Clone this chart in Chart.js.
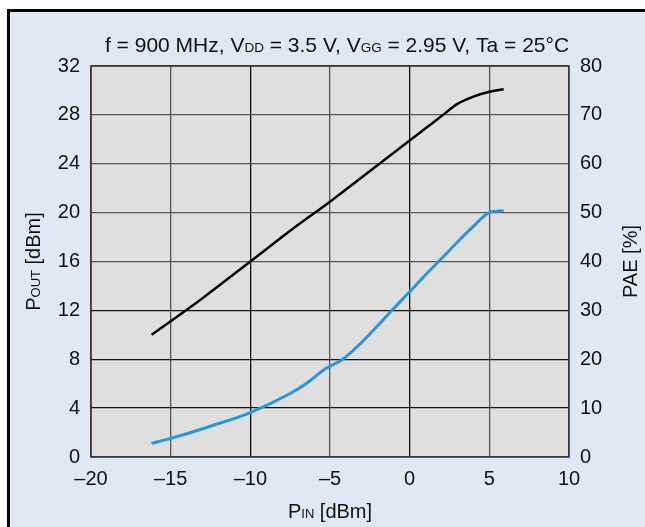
<!DOCTYPE html>
<html><head><meta charset="utf-8">
<script src="https://cdn.jsdelivr.net/npm/chart.js@4.4.1/dist/chart.umd.min.js"></script>
<style>html,body{margin:0;padding:0;background:#fff;overflow:hidden}canvas{display:block}</style>
</head><body><canvas id="c" width="645" height="527" style="width:645px;height:527px"></canvas>
<script>
// P_IN (dBm) values for the P_OUT curve
const pinPout = [-16.2, -13, -10, -7, -5, -2, 0, 1, 2, 3, 4, 5, 5.9];
// P_OUT (dBm)
const poutValues = [10.0, 13.0, 16.0, 19.0, 20.9, 23.9, 25.9, 26.9, 27.9, 28.9, 29.5, 29.9, 30.1];
// P_IN (dBm) values for the PAE curve
const pinPae = [-16.2, -15, -12.5, -10, -7.5, -6.5, -5.4, -5, -4.2, -3, -2, -1, 0, 1, 2, 3, 4, 5, 5.9];
// PAE (%)
const paeValues = [2.8, 3.8, 6.3, 9.1, 13.0, 15.0, 17.8, 18.6, 20.0, 23.5, 26.9, 30.4, 33.8, 37.3, 40.6, 44.0, 47.2, 50.0, 50.4];
// tick definitions
const xTicks = [-20, -15, -10, -5, 0, 5, 10];
const yLeftTicks = [0, 4, 8, 12, 16, 20, 24, 28, 32];
const yRightTicks = [0, 10, 20, 30, 40, 50, 60, 70, 80];

const FONT = 'Liberation Sans, Arial, sans-serif';
const BG = '#dfe8f4';
const fmt = v => (v < 0 ? '\u2013' + Math.abs(v) : String(v));

function richText(ctx, parts, x, y) {
  let total = 0;
  parts.forEach(p => { ctx.font = p[1] + 'px ' + FONT; total += ctx.measureText(p[0]).width; });
  let cx = x - total / 2;
  ctx.textAlign = 'left';
  ctx.textBaseline = 'alphabetic';
  parts.forEach(p => { ctx.font = p[1] + 'px ' + FONT; ctx.fillText(p[0], cx, y); cx += ctx.measureText(p[0]).width; });
}

const deco = {
  id: 'deco',
  beforeDraw(chart) {
    const ctx = chart.ctx, a = chart.chartArea;
    ctx.save();
    ctx.fillStyle = '#ffffff';
    ctx.fillRect(0, 0, 645, 527);
    ctx.fillStyle = BG;
    ctx.fillRect(9, 11, 700, 700);
    ctx.fillStyle = '#000';
    ctx.fillRect(7, 9, 700, 3);
    ctx.fillRect(7, 9, 3, 700);
    ctx.fillStyle = '#dfdfdf';
    ctx.fillRect(a.left, a.top, a.right - a.left, a.bottom - a.top);
    ctx.restore();
  },
  afterDraw(chart) {
    const ctx = chart.ctx, a = chart.chartArea;
    ctx.save();
    ctx.strokeStyle = '#333';
    ctx.lineWidth = 1.5;
    ctx.strokeRect(a.left, a.top, a.right - a.left, a.bottom - a.top);
    // keep right and bottom edges free of any frame
    ctx.fillStyle = BG;
    ctx.fillRect(638, 12, 7, 515);
    ctx.fillRect(10, 524, 635, 3);
    ctx.fillStyle = '#111';
    richText(ctx, [['f = 900 MHz, V', 21], ['DD', 13.5], [' = 3.5 V, V', 21], ['GG', 13.5], [' = 2.95 V, Ta = 25\u00b0C', 21]], 337, 52);
    richText(ctx, [['P', 20], ['IN', 13], [' [dBm]', 20]], (a.left + a.right) / 2, 518);
    ctx.save();
    ctx.translate(33, (a.top + a.bottom) / 2);
    ctx.rotate(-Math.PI / 2);
    richText(ctx, [['P', 20], ['OUT', 13], [' [dBm]', 20]], 0, 7);
    ctx.restore();
    ctx.save();
    ctx.translate(630, (a.top + a.bottom) / 2);
    ctx.rotate(-Math.PI / 2);
    richText(ctx, [['PAE [%]', 20]], 0, 7);
    ctx.restore();
    ctx.restore();
  }
};

const tickFont = { family: FONT, size: 20 };

new Chart(document.getElementById('c'), {
  type: 'line',
  data: {
    datasets: [
      {
        label: 'POUT',
        data: pinPout.map((x, i) => ({ x: x, y: poutValues[i] })),
        borderColor: '#000',
        borderWidth: 2.5,
        pointRadius: 0,
        cubicInterpolationMode: 'monotone',
        yAxisID: 'y'
      },
      {
        label: 'PAE',
        data: pinPae.map((x, i) => ({ x: x, y: paeValues[i] })),
        borderColor: '#2b96d7',
        borderWidth: 3,
        pointRadius: 0,
        cubicInterpolationMode: 'monotone',
        yAxisID: 'y2'
      }
    ]
  },
  options: {
    responsive: false,
    maintainAspectRatio: false,
    animation: false,
    devicePixelRatio: 1,
    layout: { padding: { top: 66, left: 0, right: 0, bottom: 0 } },
    plugins: { legend: { display: false }, tooltip: { enabled: false }, title: { display: false } },
    scales: {
      x: {
        type: 'linear', min: -20, max: 10, position: 'bottom',
        afterBuildTicks: s => { s.ticks = xTicks.map(v => ({ value: v })); },
        ticks: { font: tickFont, color: '#111', padding: 10, maxRotation: 0, autoSkip: false, callback: v => fmt(v) },
        grid: { drawTicks: false, lineWidth: 1.3, color: c => (c.tick && (c.tick.value === -10 || c.tick.value === 0)) ? '#111' : '#555' },
        border: { display: false },
        afterFit: s => { s.height = 70; }
      },
      y: {
        type: 'linear', min: 0, max: 32, position: 'left',
        afterBuildTicks: s => { s.ticks = yLeftTicks.map(v => ({ value: v })); },
        ticks: { font: tickFont, color: '#111', padding: 11, callback: v => fmt(v) },
        grid: { drawTicks: false, lineWidth: 1.3, color: c => (c.tick && c.tick.value > 0 && c.tick.value <= 12) ? '#111' : '#555' },
        border: { display: false },
        afterFit: s => { s.width = 91; }
      },
      y2: {
        type: 'linear', min: 0, max: 80, position: 'right',
        afterBuildTicks: s => { s.ticks = yRightTicks.map(v => ({ value: v })); },
        ticks: { font: tickFont, color: '#111', padding: 11 },
        grid: { display: false, drawTicks: false },
        border: { display: false },
        afterFit: s => { s.width = 76; }
      }
    }
  },
  plugins: [deco]
});
</script>
</body></html>
